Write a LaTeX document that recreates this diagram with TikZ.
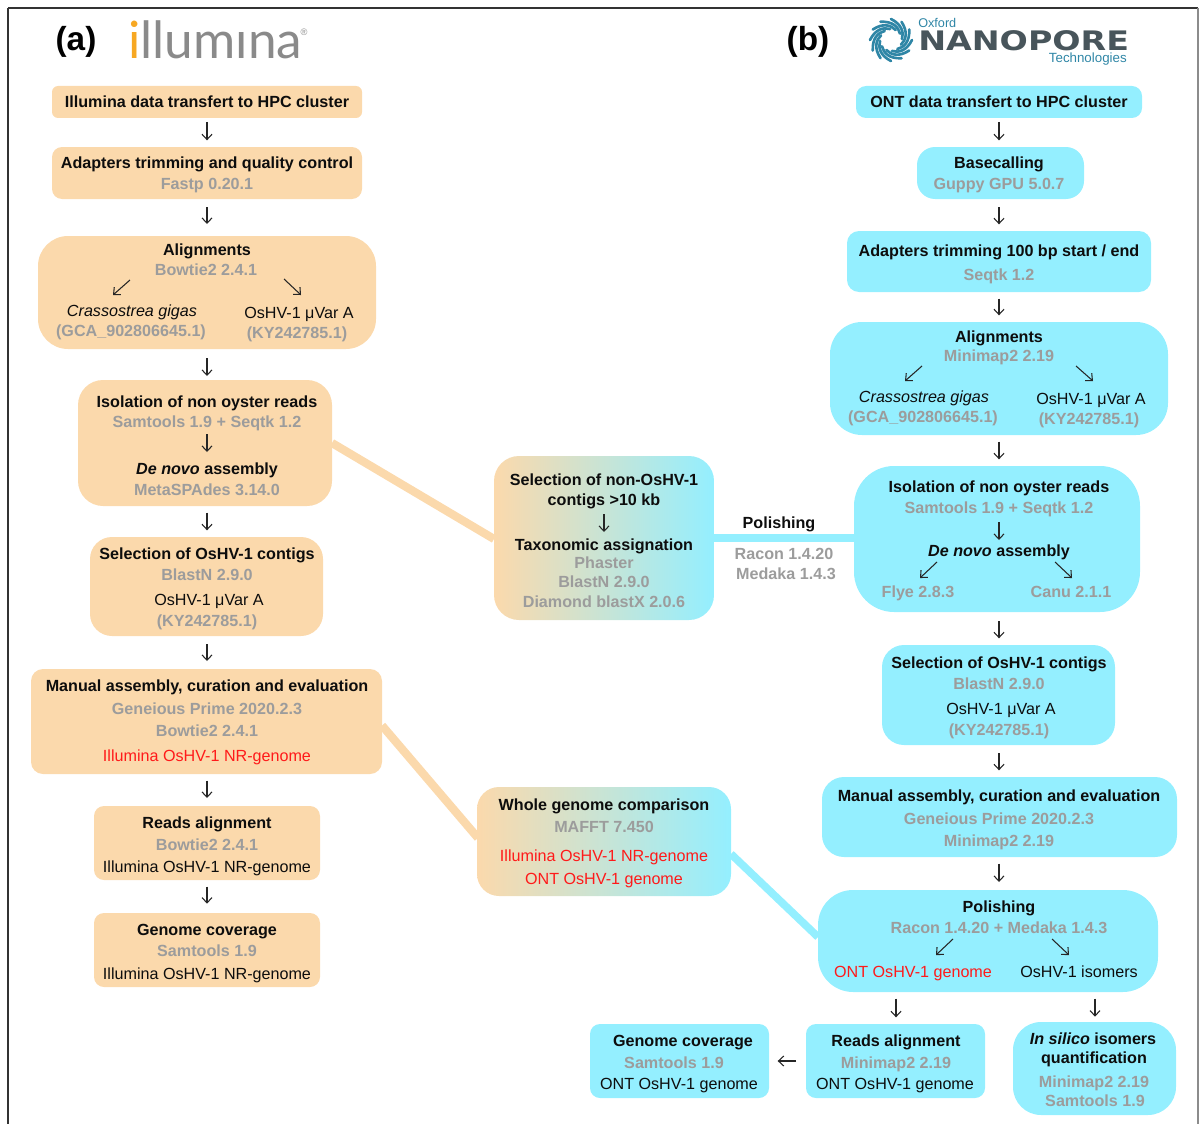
\documentclass[tikz,border=0pt]{standalone}
\usepackage{fontspec}
\setmainfont{Liberation Sans}
\newfontfamily\logoA{Lato}
\newfontfamily\logoB{DejaVu Sans}
\usetikzlibrary{arrows.meta}
\definecolor{peach}{HTML}{FBD9AC}
\definecolor{ocean}{HTML}{94EFFF}
\definecolor{soft}{HTML}{9C9C9C}
\definecolor{hot}{HTML}{FF1A1A}
\definecolor{logogray}{HTML}{8A8A8A}
\definecolor{logoorange}{HTML}{F7A823}
\definecolor{logodark}{HTML}{48555B}
\definecolor{logoteal}{HTML}{2F86A6}
\newcount\tcnt
\newcommand{\bx}[7]{\node[boxbase,#7,rounded corners=#6*0.75pt,minimum width=(#4-#2)*0.75pt,minimum height=(#5-#3)*0.75pt] (#1) at ({(#2+#4)/2},{(#3+#5)/2}) {};}
\newcommand{\tl}[4]{\global\advance\tcnt by 1 \node[#1] (t\the\tcnt) at (#2,#3) {#4};}
\newcommand{\ia}[4]{\draw[flow] (#1,#2) -- (#3,#4);}
\begin{document}
\begin{tikzpicture}[x=0.75pt,y=-0.75pt,
  boxbase/.style={inner sep=0pt,outer sep=0pt,draw=none},
  ill/.style={fill=peach},
  ont/.style={fill=ocean},
  mix/.style={left color=peach,right color=ocean},
  txt/.style={inner sep=0pt,anchor=mid,yshift=-2.3pt},
  lab/.style={txt,font=\fontsize{12.1}{14}\selectfont\bfseries,text=black!95},
  tool/.style={txt,font=\fontsize{12.1}{14}\selectfont\bfseries,text=soft},
  plain/.style={txt,font=\fontsize{12.1}{14}\selectfont,text=black!95},
  redt/.style={txt,font=\fontsize{12.1}{14}\selectfont,text=hot},
  flow/.style={draw=black!85,line width=0.8pt,-{Straight Barb[length=4pt,width=7.5pt]}},
  linkP/.style={draw=peach,line width=6.2pt},
  linkO/.style={draw=ocean,line width=5.8pt}]
\useasboundingbox (0,0) rectangle (1200,1124);
\begin{scope}
\clip (0,0) rectangle (1200,1124);
\draw[black!80,line width=1.5pt] (8,8) -- (1198,8);
\draw[black!80,line width=1.5pt] (8,8) -- (8,1130);
\draw[black!45,line width=0.8pt] (1198,8) -- (1198,1130);
\end{scope}
\coordinate (colA) at (207,0);
\coordinate (colB) at (999,0);
% boxes
\bx{a1}{52}{86}{362}{118}{6}{ill}
\bx{a2}{52}{147}{362}{199}{10}{ill}
\bx{a3}{38}{236}{376}{349}{30}{ill}
\bx{a4}{78}{380}{332}{506}{25}{ill}
\bx{a5}{90}{537}{323}{636}{22}{ill}
\bx{a6}{31}{669}{382}{774}{12}{ill}
\bx{a7}{94}{806}{320}{880}{10}{ill}
\bx{a8}{94}{913}{320}{987}{10}{ill}
\bx{b1}{856}{86}{1142}{118}{10}{ont}
\bx{b2}{917}{147}{1084}{199}{18}{ont}
\bx{b3}{847}{231}{1151}{292}{12}{ont}
\bx{b4}{830}{322}{1168}{435}{32}{ont}
\bx{b5}{854}{466}{1140}{612}{40}{ont}
\bx{b6}{882}{645}{1115}{745}{22}{ont}
\bx{b7}{822}{777}{1177}{857}{22}{ont}
\bx{b8}{818}{890}{1158}{992}{35}{ont}
\bx{b9}{806}{1024}{985}{1098}{10}{ont}
\bx{b10}{590}{1024}{769}{1098}{10}{ont}
\bx{b11}{1013}{1022}{1176}{1115}{28}{ont}
% thick links, drawn under the two mixed boxes
\draw[linkP] (a4.east) -- (494,539);
\draw[linkO] (714,538) -- (714,538 -| b5.west);
\draw[linkP] ([yshift=-3pt]a6.east) -- (478,838);
\draw[linkO] (731,854) -- ([yshift=3pt]b8.west);
\bx{m1}{494}{456}{714}{620}{25}{mix}
\bx{m2}{477}{787}{731}{896}{22}{mix}
% headings
\tl{inner sep=0pt,font=\fontsize{25}{28}\selectfont\bfseries,text=black}{76}{42}{(a)}
\tl{inner sep=0pt,font=\fontsize{25}{28}\selectfont\bfseries,text=black}{808}{42}{(b)}
% illumina logo
\tl{inner sep=0pt,anchor=base west,font=\fontsize{38.5}{40}\logoA\selectfont,text=logogray}{128}{59}{\textcolor{logoorange}{i}llumına}
\tl{inner sep=0pt,font=\fontsize{7}{8}\selectfont,text=logogray}{304}{32}{®}
% nanopore logo
\begin{scope}[shift={(891,40)}]
\foreach \a in {0,30,...,330}{
  \draw[logoteal,line width=2pt,line cap=round] (\a:21) .. controls (\a+35:19) and (\a+60:15) .. (\a+85:11);
}
\end{scope}
\tl{inner sep=0pt,anchor=west,font=\fontsize{9.5}{10}\selectfont,text=logoteal}{918}{23}{Oxford}
\tl{inner sep=0pt,anchor=west,font=\fontsize{24}{24}\logoB\selectfont\bfseries,text=logodark}{918}{41}{\scalebox{1.04}[0.84]{NANOPORE}}
\tl{inner sep=0pt,anchor=east,font=\fontsize{10}{10}\selectfont,text=logoteal}{1127}{59}{Technologies}
% column a
\tl{lab}{207}{101}{Illumina data transfert to HPC cluster}
\tl{lab}{207}{162}{Adapters trimming and quality control}
\tl{tool}{207}{183}{Fastp 0.20.1}
\tl{lab}{207}{249}{Alignments}
\tl{tool}{206}{269}{Bowtie2 2.4.1}
\ia{130}{280}{113}{295}
\ia{284}{279}{301}{295}
\tl{plain}{132}{310}{\itshape Crassostrea gigas}
\tl{tool}{131}{330}{(GCA\_902806645.1)}
\tl{plain}{299}{312}{OsHV-1 μVar A}
\tl{tool}{297}{332}{(KY242785.1)}
\tl{lab}{207}{401}{Isolation of non oyster reads}
\tl{tool}{207}{421}{Samtools 1.9 + Seqtk 1.2}
\ia{207}{434}{207}{452}
\tl{lab}{207}{468}{\itshape De novo\upshape{} assembly}
\tl{tool}{207}{489}{MetaSPAdes 3.14.0}
\tl{lab}{207}{553}{Selection of OsHV-1 contigs}
\tl{tool}{207}{574}{BlastN 2.9.0}
\tl{plain}{209}{599}{OsHV-1 μVar A}
\tl{tool}{207}{620}{(KY242785.1)}
\tl{lab}{207}{685}{Manual assembly, curation and evaluation}
\tl{tool}{207}{708}{Geneious Prime 2020.2.3}
\tl{tool}{207}{730}{Bowtie2 2.4.1}
\tl{redt}{207}{755}{Illumina OsHV-1 NR-genome}
\tl{lab}{207}{822}{Reads alignment}
\tl{tool}{207}{844}{Bowtie2 2.4.1}
\tl{plain}{207}{866}{Illumina OsHV-1 NR-genome}
\tl{lab}{207}{929}{Genome coverage}
\tl{tool}{207}{950}{Samtools 1.9}
\tl{plain}{207}{973}{Illumina OsHV-1 NR-genome}
% column b
\tl{lab}{999}{101}{ONT data transfert to HPC cluster}
\tl{lab}{999}{162}{Basecalling}
\tl{tool}{999}{183}{Guppy GPU 5.0.7}
\tl{lab}{999}{250}{Adapters trimming 100 bp start / end}
\tl{tool}{999}{274}{Seqtk 1.2}
\tl{lab}{999}{336}{Alignments}
\tl{tool}{999}{355}{Minimap2 2.19}
\ia{922}{366}{905}{381}
\ia{1076}{366}{1093}{381}
\tl{plain}{924}{396}{\itshape Crassostrea gigas}
\tl{tool}{923}{416}{(GCA\_902806645.1)}
\tl{plain}{1091}{398}{OsHV-1 μVar A}
\tl{tool}{1089}{418}{(KY242785.1)}
\tl{lab}{999}{486}{Isolation of non oyster reads}
\tl{tool}{999}{507}{Samtools 1.9 + Seqtk 1.2}
\ia{999}{522}{999}{540}
\tl{lab}{999}{550}{\itshape De novo\upshape{} assembly}
\ia{937}{562}{920}{578}
\ia{1055}{562}{1072}{578}
\tl{tool}{918}{591}{Flye 2.8.3}
\tl{tool}{1071}{591}{Canu 2.1.1}
\tl{lab}{999}{662}{Selection of OsHV-1 contigs}
\tl{tool}{999}{683}{BlastN 2.9.0}
\tl{plain}{1001}{708}{OsHV-1 μVar A}
\tl{tool}{999}{729}{(KY242785.1)}
\tl{lab}{999}{795}{Manual assembly, curation and evaluation}
\tl{tool}{999}{818}{Geneious Prime 2020.2.3}
\tl{tool}{999}{840}{Minimap2 2.19}
\tl{lab}{999}{906}{Polishing}
\tl{tool}{999}{927}{Racon 1.4.20 + Medaka 1.4.3}
\ia{953}{939}{936}{955}
\ia{1052}{939}{1069}{955}
\tl{redt}{913}{971}{ONT OsHV-1 genome}
\tl{plain}{1079}{971}{OsHV-1 isomers}
\tl{lab}{896}{1040}{Reads alignment}
\tl{tool}{896}{1062}{Minimap2 2.19}
\tl{plain}{895}{1083}{ONT OsHV-1 genome}
\tl{lab}{683}{1040}{Genome coverage}
\tl{tool}{674}{1062}{Samtools 1.9}
\tl{plain}{679}{1083}{ONT OsHV-1 genome}
\tl{lab}{1093}{1038}{\itshape In silico\upshape{} isomers}
\tl{lab}{1094}{1057}{quantification}
\tl{tool}{1094}{1081}{Minimap2 2.19}
\tl{tool}{1095}{1100}{Samtools 1.9}
% middle
\tl{lab}{604}{479}{Selection of non-OsHV-1}
\tl{lab}{604}{499}{contigs >10 kb}
\ia{604}{514}{604}{532}
\tl{lab}{604}{544}{Taxonomic assignation}
\tl{tool}{604}{562}{Phaster}
\tl{tool}{604}{581}{BlastN 2.9.0}
\tl{tool}{604}{601}{Diamond blastX 2.0.6}
\tl{lab}{779}{522}{Polishing}
\tl{tool}{784}{553}{Racon 1.4.20}
\tl{tool}{786}{573}{Medaka 1.4.3}
\tl{lab}{604}{804}{Whole genome comparison}
\tl{tool}{604}{826}{MAFFT 7.450}
\tl{redt}{604}{855}{Illumina OsHV-1 NR-genome}
\tl{redt}{604}{878}{ONT OsHV-1 genome}
% flow arrows between boxes
\draw[flow,shorten <=3pt,shorten >=5pt] (colA |- a1.south) -- (colA |- a2.north);
\draw[flow,shorten <=6pt,shorten >=9pt] (colA |- a2.south) -- (colA |- a3.north);
\draw[flow,shorten <=7pt,shorten >=3pt] (colA |- a3.south) -- (colA |- a4.north);
\draw[flow,shorten <=5pt,shorten >=5pt] (colA |- a4.south) -- (colA |- a5.north);
\draw[flow,shorten <=6pt,shorten >=6pt] (colA |- a5.south) -- (colA |- a6.north);
\draw[flow,shorten <=5pt,shorten >=6pt] (colA |- a6.south) -- (colA |- a7.north);
\draw[flow,shorten <=5pt,shorten >=7pt] (colA |- a7.south) -- (colA |- a8.north);
\draw[flow,shorten <=3pt,shorten >=5pt] (colB |- b1.south) -- (colB |- b2.north);
\draw[flow,shorten <=6pt,shorten >=5pt] (colB |- b2.south) -- (colB |- b3.north);
\draw[flow,shorten <=5pt,shorten >=5pt] (colB |- b3.south) -- (colB |- b4.north);
\draw[flow,shorten <=5pt,shorten >=5pt] (colB |- b4.south) -- (colB |- b5.north);
\draw[flow,shorten <=7pt,shorten >=5pt] (colB |- b5.south) -- (colB |- b6.north);
\draw[flow,shorten <=6pt,shorten >=5pt] (colB |- b6.south) -- (colB |- b7.north);
\draw[flow,shorten <=5pt,shorten >=6pt] (colB |- b7.south) -- (colB |- b8.north);
\draw[flow,shorten <=7.5pt,shorten >=6.5pt] (b9.west) -- (b9.west -| b10.east);
\coordinate (p1) at (896,992);
\coordinate (p2) at (1095,992);
\draw[flow,shorten <=5pt,shorten >=5pt] (p1) -- (p1 |- b9.north);
\draw[flow,shorten <=5pt,shorten >=4pt] (p2) -- (p2 |- b11.north);
\end{tikzpicture}
\end{document}
